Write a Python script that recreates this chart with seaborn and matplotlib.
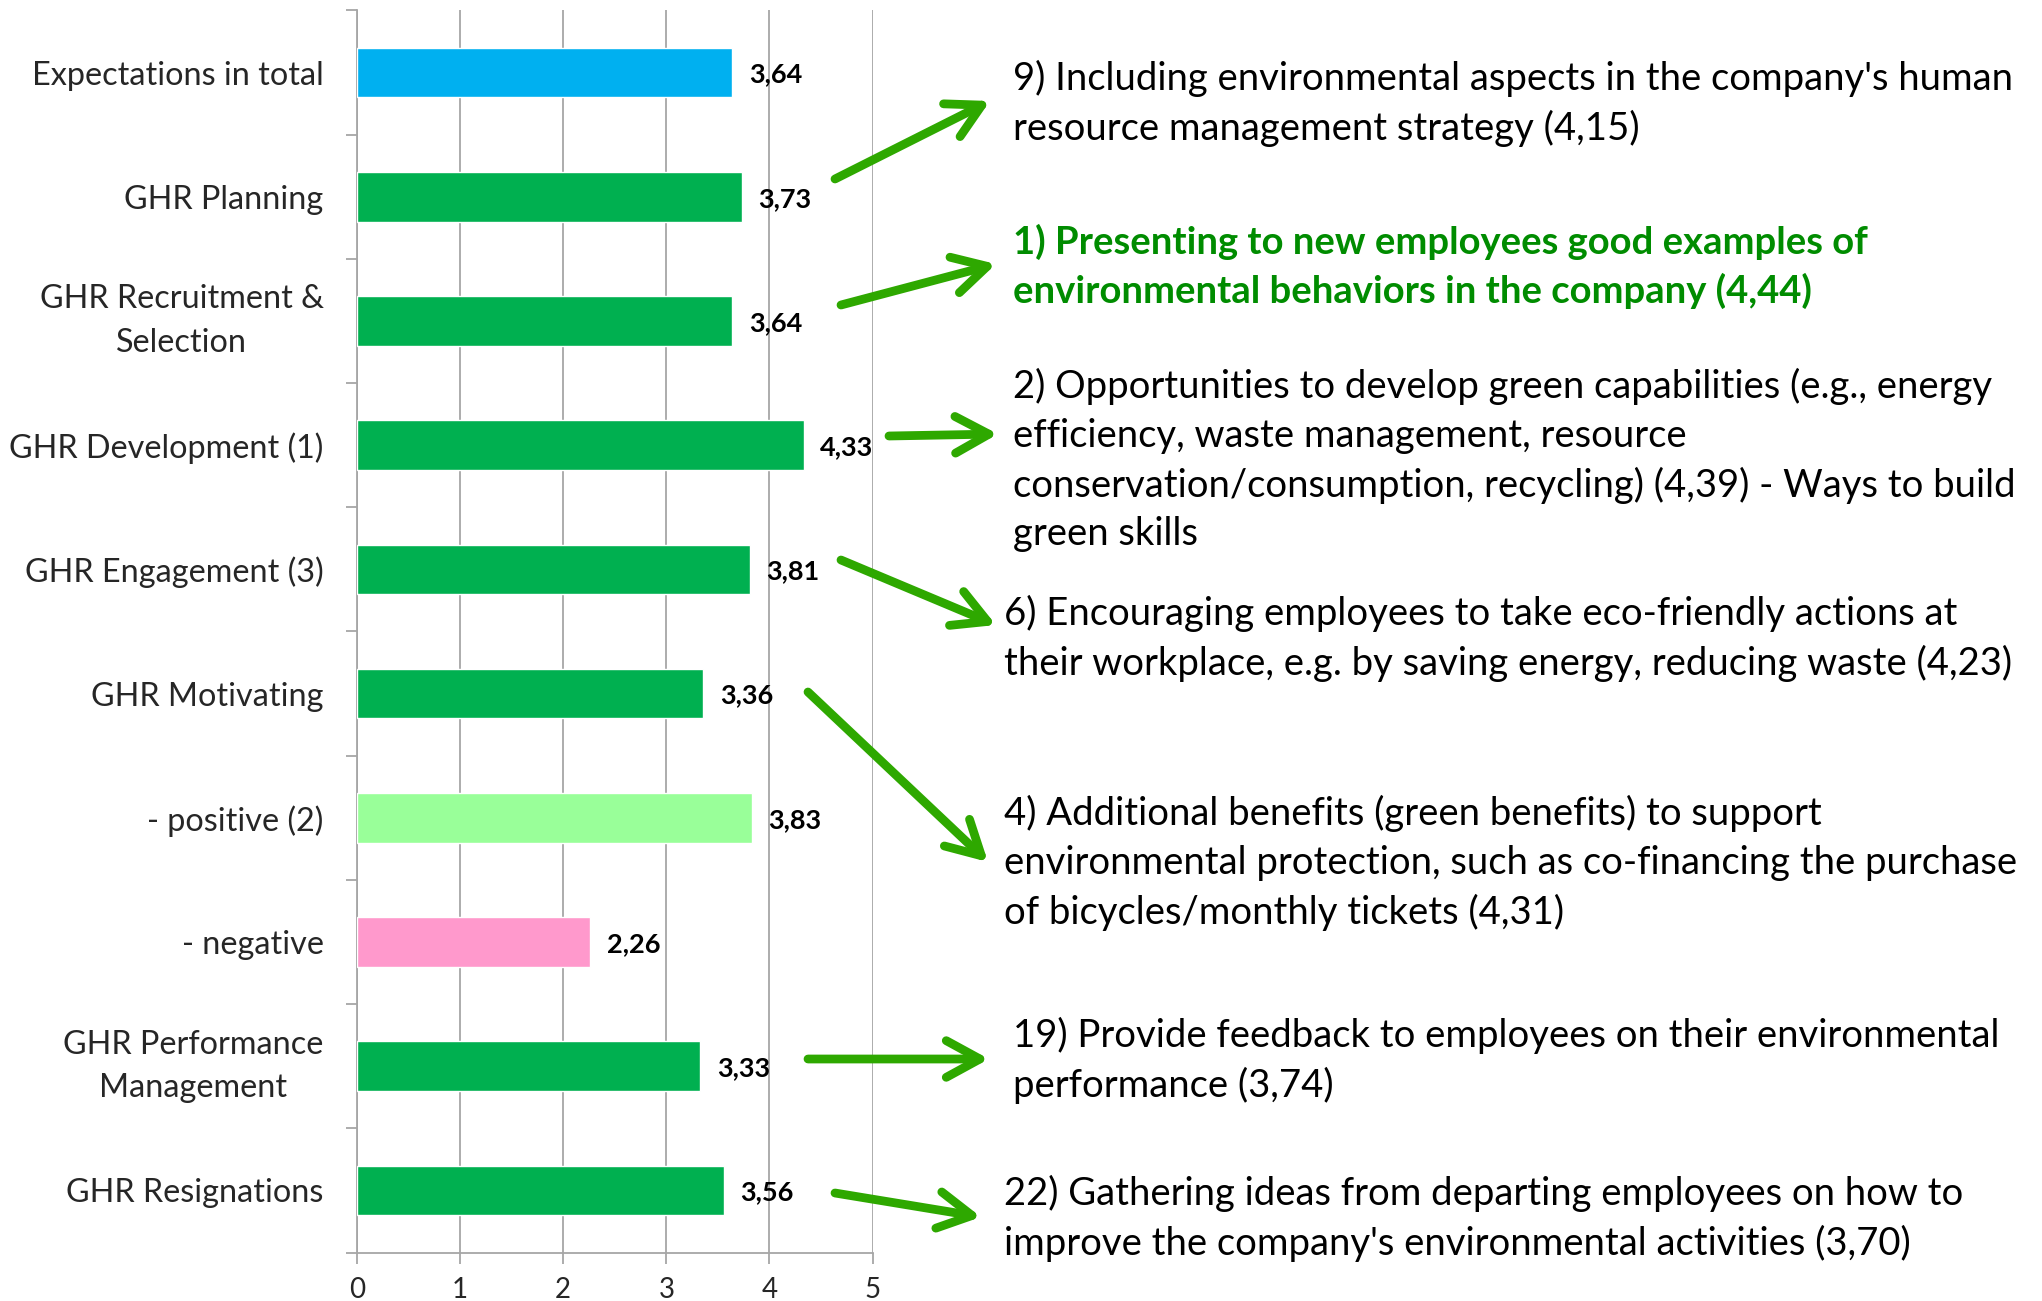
import numpy as np
import pandas as pd
import matplotlib
matplotlib.use('Agg')
import matplotlib.pyplot as plt
import seaborn as sns

W, H = 2042, 1301

categories = ['Expectations in total', 'GHR Planning', 'GHR Recruitment &\nSelection',
              'GHR Development (1)', 'GHR Engagement (3)', 'GHR Motivating',
              '- positive (2)', '- negative', 'GHR Performance\nManagement', 'GHR Resignations']
values = [3.64, 3.73, 3.64, 4.33, 3.81, 3.36, 3.83, 2.26, 3.33, 3.56]
bar_colors = ['#00b0f0', '#00b050', '#00b050', '#00b050', '#00b050', '#00b050',
              '#99ff99', '#ff99cc', '#00b050', '#00b050']
x_ticks = [0, 1, 2, 3, 4, 5]

notes = [
    "9) Including environmental aspects in the company's human\nresource management strategy (4,15)",
    "1) Presenting to new employees good examples of\nenvironmental behaviors in the company (4,44)",
    "2) Opportunities to develop green capabilities (e.g., energy\nefficiency, waste management, resource\n"
    "conservation/consumption, recycling) (4,39) - Ways to build\ngreen skills",
    "6) Encouraging employees to take eco-friendly actions at\ntheir workplace, e.g. by saving energy, reducing waste (4,23)",
    "4) Additional benefits (green benefits) to support\nenvironmental protection, such as co-financing the purchase\n"
    "of bicycles/monthly tickets (4,31)",
    "19) Provide feedback to employees on their environmental\nperformance (3,74)",
    "22) Gathering ideas from departing employees on how to\nimprove the company's environmental activities (3,70)",
]
# pixel layout of the notes (left x, centre y) and arrows (start, tip)
note_pos = [(1013, 103), (1013, 266), (1013, 460), (1004, 638), (1004, 863), (1013, 1060), (1004, 1218)]
arrows = [((835, 179), (990, 101)), ((841, 305), (996, 264)), ((889, 436), (998, 434)),
          ((841, 560), (996, 625)), ((808, 692), (988, 862)), ((808, 1059), (989, 1059)),
          ((835, 1193), (981, 1217))]

sns.set_style('white')
plt.rcParams['font.family'] = ['Lato', 'DejaVu Sans']

df = pd.DataFrame({'cat': categories, 'val': values})

fig = plt.figure(figsize=(W / 100, H / 100), dpi=100)
ax = fig.add_axes([357 / W, 1 - 1252.5 / H, (872.6 - 357) / W, (1252.5 - 10.4) / H])

sns.barplot(data=df, y='cat', x='val', hue='cat', palette=bar_colors, legend=False,
            orient='h', width=0.4, saturation=1, ax=ax, zorder=3)

ax.set_xlim(0, 5)
ax.set_ylim(len(categories) - 0.5, -0.5)
ax.set_xticks(x_ticks)
ax.set_xticklabels([str(t) for t in x_ticks], fontsize=20)
ax.grid(axis='x', color='#a6a6a6', linewidth=1.3, zorder=0)
ax.set_xlabel('')
ax.set_ylabel('')
for s in ['top', 'right']:
    ax.spines[s].set_visible(False)
for s in ['left', 'bottom']:
    ax.spines[s].set_color('#a6a6a6')
    ax.spines[s].set_linewidth(1.3)

ax.tick_params(axis='x', direction='out', length=8, width=1.3, color='#a6a6a6', pad=10, bottom=True)
ax.tick_params(axis='y', which='major', length=0, pad=24)
ax.set_yticks(np.arange(-0.5, len(categories), 1), minor=True)
ax.tick_params(axis='y', which='minor', direction='out', length=8, width=1.3, color='#a6a6a6', left=True)
for lab in ax.get_yticklabels():
    lab.set_fontsize(23.3)
    lab.set_multialignment('center')
    lab.set_linespacing(1.55)
    if '\n' in lab.get_text():
        lab.set_verticalalignment('center')

for i, v in enumerate(values):
    ax.text(v + 0.16, i, f'{v:.2f}'.replace('.', ','), va='center_baseline', ha='left',
            fontsize=19.5, fontweight='bold', color='black', zorder=4)


def fpos(p):
    return p[0] / W, 1 - p[1] / H


for i, (txt, p) in enumerate(zip(notes, note_pos)):
    green = i == 1
    fig.text(*fpos(p), txt, ha='left', va='center', fontsize=27.5, linespacing=1.43,
             color='#008c00' if green else 'black', fontweight='bold' if green else 'normal')

for start, tip in arrows:
    ax.annotate('', xy=fpos(tip), xytext=fpos(start), xycoords='figure fraction',
                textcoords='figure fraction',
                arrowprops=dict(arrowstyle='->,head_length=1.1,head_width=0.6', color='#2ea800',
                                lw=6.3, mutation_scale=22, shrinkA=0, shrinkB=0))

fig.savefig('out.png', dpi=100)
